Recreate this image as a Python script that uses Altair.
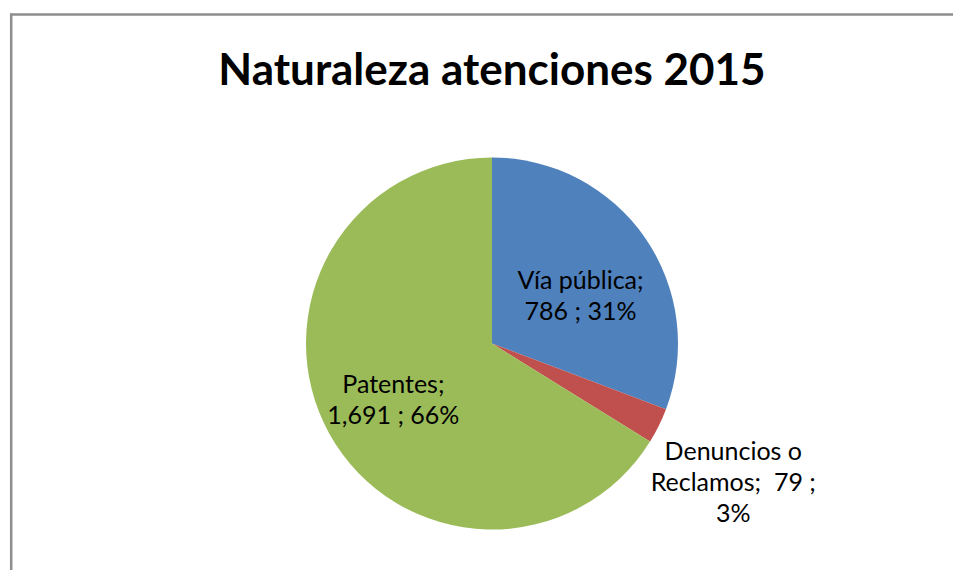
import altair as alt
import pandas as pd

categories = ["Vía pública", "Denuncios o Reclamos", "Patentes"]
values = [786, 79, 1691]
label_text = ["Vía pública;\n786 ; 31%", "Denuncios o\nReclamos;\u00a0 79 ;\n3%", "Patentes;\n1,691 ; 66%"]
colors = ["#4F81BD", "#C0504D", "#9BBB59"]
title_text = "Naturaleza atenciones 2015"

df = pd.DataFrame({
    "cat": categories,
    "value": values,
    "label": label_text,
    "idx": list(range(len(categories))),
})

CX, CY = 484, 335.5
FONT = "Lato"

base = alt.Chart(df).encode(
    theta=alt.Theta("value:Q", stack=True),
    order=alt.Order("idx:Q"),
    x=alt.value(CX),
    y=alt.value(CY),
)

pie = base.mark_arc(radius=186).encode(
    color=alt.Color("cat:N", scale=alt.Scale(domain=categories, range=colors), legend=None)
)


def label_layer(cat, radius, dx, dy):
    return base.transform_calculate(
        t=f"datum.cat == '{cat}' ? datum.label : ''"
    ).mark_text(
        radius=radius, dx=dx, dy=dy, font=FONT, fontSize=25, color="#000000",
        lineBreak="\n", lineHeight=31, align="center", baseline="middle",
    ).encode(text="t:N")


l1 = label_layer("Vía pública", 104, 3, -3)
l2 = label_layer("Denuncios o Reclamos", 278, -8, -15)
l3 = label_layer("Patentes", 114, 1, -14)

title = alt.Chart(pd.DataFrame({"t": [title_text]})).mark_text(
    font=FONT, fontSize=44, fontWeight="bold", color="#000000",
    align="center", baseline="alphabetic",
).encode(text="t:N", x=alt.value(484), y=alt.value(77))

lines = pd.DataFrame({"a": [0]})
top_line = alt.Chart(lines).mark_rule(stroke="#8e8e8e", strokeWidth=2.5).encode(
    x=alt.value(2), x2=alt.value(1200), y=alt.value(6.5)
)
left_line = alt.Chart(lines).mark_rule(stroke="#8e8e8e", strokeWidth=2.5).encode(
    x=alt.value(3.2), y=alt.value(5.5), y2=alt.value(1200)
)

chart = alt.layer(top_line, left_line, pie, l1, l2, l3, title).properties(
    width=945, height=562, padding=0, autosize=alt.AutoSizeParams(type="none"),
    background="white"
).configure_view(strokeWidth=0, stroke="transparent")

chart.save("out.html", embed_options={"renderer": "svg", "actions": False})
